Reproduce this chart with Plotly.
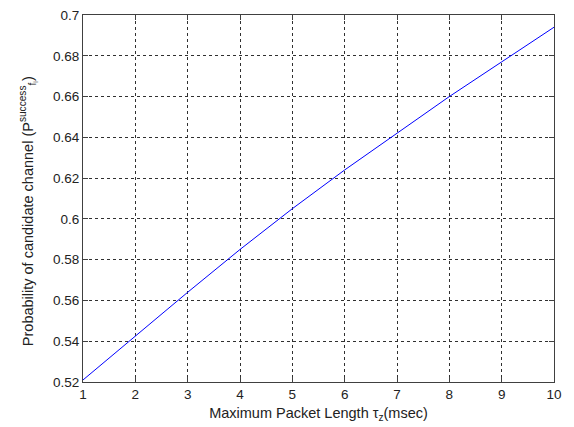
import plotly.graph_objects as go

packet_length = [1, 2, 3, 4, 5, 6, 7, 8, 9, 10]
probability = [0.521, 0.5425, 0.564, 0.585, 0.605, 0.624, 0.642, 0.660, 0.677, 0.694]

x_ticks = [1, 2, 3, 4, 5, 6, 7, 8, 9, 10]
y_ticks = [0.52, 0.54, 0.56, 0.58, 0.6, 0.62, 0.64, 0.66, 0.68, 0.7]
y_tick_labels = ["0.52", "0.54", "0.56", "0.58", "0.6", "0.62", "0.64", "0.66", "0.68", "0.7"]
y_title = "Probability of candidate channel (P<sup>success</sup><sub>f<sub>i</sub></sub>)"
x_title = "Maximum Packet Length τ<sub>z</sub>(msec)"

fig = go.Figure()
fig.add_trace(go.Scatter(x=packet_length, y=probability, mode="lines",
                         line=dict(color="#0000ff", width=1), showlegend=False))

font = "Liberation Sans, Arial, sans-serif"
axis_common = dict(
    showline=True, linecolor="#404040", linewidth=1, mirror="ticks",
    ticks="inside", ticklen=5, tickcolor="#404040",
    showgrid=True, gridcolor="#303030", griddash="3px,3px", gridwidth=1,
    zeroline=False, tickfont=dict(family=font, size=13.5, color="#222222"),
)
fig.update_xaxes(range=[1, 10], tickvals=x_ticks, **axis_common,
                 title=dict(text=x_title,
                            font=dict(family=font, size=14.5, color="#222222"), standoff=6))
fig.update_yaxes(range=[0.52, 0.7], tickvals=y_ticks, ticktext=y_tick_labels, **axis_common)
fig.add_annotation(text=y_title, textangle=-90, showarrow=False,
                   xref="paper", yref="paper", x=-0.115, y=0.465,
                   xanchor="center", yanchor="middle",
                   font=dict(family=font, size=14.5, color="#222222"))
fig.update_layout(width=574, height=427, margin=dict(l=83, r=20, t=15, b=45, autoexpand=False),
                  paper_bgcolor="white", plot_bgcolor="white")
fig.write_html("out.html", config={"displayModeBar": False},
               post_script="document.body.style.margin='0';document.body.style.padding='0';")
